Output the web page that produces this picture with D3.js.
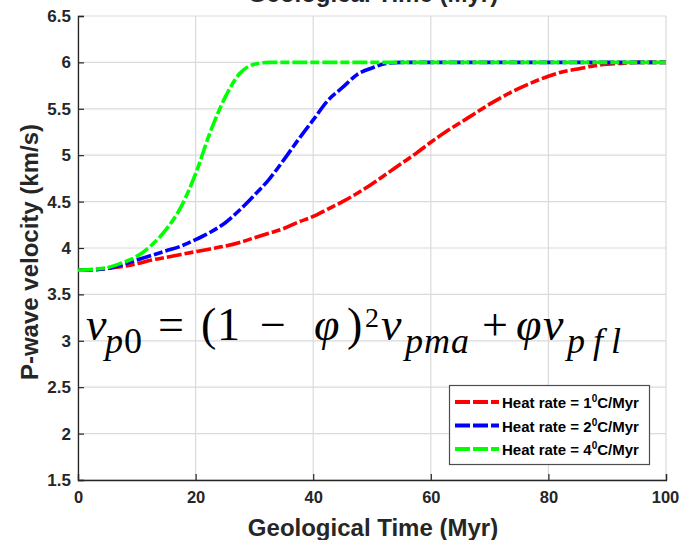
<!DOCTYPE html>
<html>
<head>
<meta charset="utf-8">
<script src="https://cdn.jsdelivr.net/npm/d3@7"></script>
<style>
  html, body { margin: 0; padding: 0; background: #fff; }
  svg { display: block; }
</style>
</head>
<body>
<svg id="chart" width="679" height="540"></svg>
<script>
// Geological time samples (Myr)
const timeMyr = [0, 2.5, 5, 7.5, 10, 12.5, 15, 17.5, 20, 22.5, 25, 27.5, 30, 32.5, 35, 37.5, 40,
  42.5, 45, 47.5, 50, 52.5, 55, 57.5, 60, 62.5, 65, 67.5, 70, 72.5, 75, 77.5, 80, 82.5, 85,
  87.5, 90, 92.5, 95, 97.5, 100];

// P-wave velocity (km/s) for each heating rate
const vpRate1 = [3.76, 3.765, 3.78, 3.80, 3.83, 3.87, 3.90, 3.93, 3.96, 3.99, 4.02, 4.06, 4.11,
  4.16, 4.21, 4.28, 4.34, 4.42, 4.50, 4.59, 4.69, 4.80, 4.91, 5.02, 5.14, 5.25, 5.35, 5.45,
  5.55, 5.64, 5.72, 5.79, 5.85, 5.90, 5.93, 5.96, 5.98, 5.99, 6.0, 6.0, 6.0];
const vpRate2 = [3.76, 3.765, 3.78, 3.82, 3.87, 3.92, 3.97, 4.02, 4.09, 4.17, 4.27, 4.41, 4.57,
  4.74, 4.95, 5.17, 5.38, 5.59, 5.73, 5.87, 5.94, 5.99, 6.0, 6.0, 6.0, 6.0, 6.0, 6.0, 6.0, 6.0,
  6.0, 6.0, 6.0, 6.0, 6.0, 6.0, 6.0, 6.0, 6.0, 6.0, 6.0];
const vpRate4 = [3.76, 3.77, 3.79, 3.84, 3.91, 4.03, 4.20, 4.44, 4.80, 5.25, 5.62, 5.88, 5.98,
  6.0, 6.0, 6.0, 6.0, 6.0, 6.0, 6.0, 6.0, 6.0, 6.0, 6.0, 6.0, 6.0, 6.0, 6.0, 6.0, 6.0, 6.0,
  6.0, 6.0, 6.0, 6.0, 6.0, 6.0, 6.0, 6.0, 6.0, 6.0];

const seriesLabels = ["1", "2", "4"];
const seriesColors = ["#ff0000", "#0000ff", "#00ff00"];

const xTicks = [0, 20, 40, 60, 80, 100];
const yTicks = [1.5, 2, 2.5, 3, 3.5, 4, 4.5, 5, 5.5, 6, 6.5];

const axisTitleX = "Geological Time (Myr)";
const axisTitleY = "P-wave velocity (km/s)";

const series = [vpRate1, vpRate2, vpRate4].map((vals, i) => ({
  label: seriesLabels[i],
  color: seriesColors[i],
  points: timeMyr.map((t, j) => [t, vals[j]])
}));

const svg = d3.select("#chart");
const margin = { left: 78, right: 13, top: 16, bottom: 60 };
const W = 679, H = 540;
const plotW = W - margin.left - margin.right;
const plotH = H - margin.top - margin.bottom;

const x = d3.scaleLinear().domain([0, 100]).range([margin.left, margin.left + plotW]);
const y = d3.scaleLinear().domain([1.5, 6.5]).range([margin.top + plotH, margin.top]);

const fontSans = "Arial, 'Liberation Sans', Helvetica, sans-serif";
const axisColor = "#262626";

// Grid
const grid = svg.append("g");
grid.selectAll("line.gx").data(xTicks).join("line")
  .attr("x1", d => x(d)).attr("x2", d => x(d))
  .attr("y1", y(1.5)).attr("y2", y(6.5))
  .attr("stroke", "#dadada").attr("stroke-width", 1.2);
grid.selectAll("line.gy").data(yTicks).join("line")
  .attr("x1", x(0)).attr("x2", x(100))
  .attr("y1", d => y(d)).attr("y2", d => y(d))
  .attr("stroke", "#dadada").attr("stroke-width", 1.2);

// Axes (ticks point inward)
const xAxis = d3.axisBottom(x).tickValues(xTicks).tickSize(-6).tickPadding(11).tickFormat(d3.format("d"));
const yAxis = d3.axisLeft(y).tickValues(yTicks).tickSize(-6).tickPadding(7).tickFormat(d => String(d));

const gx = svg.append("g").attr("transform", `translate(0,${y(1.5)})`).call(xAxis);
const gy = svg.append("g").attr("transform", `translate(${x(0)},0)`).call(yAxis);
[gx, gy].forEach(g => {
  g.select(".domain").attr("stroke", axisColor).attr("stroke-width", 1.3);
  g.selectAll(".tick line").attr("stroke", axisColor).attr("stroke-width", 1.2);
  g.selectAll(".tick text").attr("fill", axisColor)
    .style("font-family", fontSans).style("font-weight", "bold").style("font-size", "17px");
});
gx.selectAll(".tick text").attr("dy", "0.71em").style("font-size", "16.5px");
gx.selectAll(".tick text").filter(d => d === 100).attr("dx", -1);

// Curves
const line = d3.line().x(d => x(d[0])).y(d => y(d[1])).curve(d3.curveMonotoneX);
svg.append("g").selectAll("path").data(series).join("path")
  .attr("d", d => line(d.points))
  .attr("fill", "none")
  .attr("stroke", d => d.color)
  .attr("stroke-width", 3.6)
  .attr("stroke-dasharray", "15,3,9,3");

// Axis titles
svg.append("text")
  .attr("x", 373).attr("y", 536)
  .attr("text-anchor", "middle")
  .attr("fill", axisColor)
  .style("font-family", fontSans).style("font-weight", "bold").style("font-size", "24px")
  .text(axisTitleX);

svg.append("text")
  .attr("transform", "translate(38,252) rotate(-90)")
  .attr("text-anchor", "middle")
  .attr("fill", axisColor)
  .style("font-family", fontSans).style("font-weight", "bold").style("font-size", "24px")
  .text(axisTitleY);

// Title line running off the top edge
svg.append("text")
  .attr("x", 373).attr("y", 2)
  .attr("text-anchor", "middle")
  .attr("fill", axisColor)
  .style("font-family", fontSans).style("font-weight", "bold").style("font-size", "24px")
  .text(axisTitleX);

// Velocity relation: v_p0 = (1 − φ)² v_pma + φ v_pfl
// Each piece: glyphs, left offset from the formula origin, baseline shift, size, italic, run length
const eqX = 84, eqBase = 340;
const eqParts = [
  { t: "v",   at: 2,   shift: 0,   size: 46, it: true },
  { t: "p",   at: 21,  shift: 13,  size: 36, it: true },
  { t: "0",   at: 40,  shift: 13,  size: 36 },
  { t: "=",   at: 74,  shift: 0,   size: 46 },
  { t: "(",   at: 117, shift: 0,   size: 46 },
  { t: "1",   at: 133, shift: 0,   size: 46 },
  { t: "−",   at: 176, shift: 0,   size: 46 },
  { t: "φ",   at: 230, shift: 0,   size: 46, it: true },
  { t: ")",   at: 263, shift: 0,   size: 46 },
  { t: "2",   at: 281, shift: -13, size: 28 },
  { t: "v",   at: 297, shift: 0,   size: 46, it: true },
  { t: "pma", at: 321, shift: 13,  size: 36, it: true, len: 64 },
  { t: "+",   at: 398, shift: 0,   size: 46 },
  { t: "φ",   at: 432, shift: 0,   size: 46, it: true },
  { t: "v",   at: 459, shift: 0,   size: 46, it: true },
  { t: "pfl", at: 483, shift: 13,  size: 36, it: true, len: 54 }
];
const eq = svg.append("text")
  .attr("fill", "#000")
  .style("font-family", "'Liberation Serif', 'DejaVu Serif', serif");
eqParts.forEach(p => {
  const ts = eq.append("tspan")
    .attr("x", eqX + p.at)
    .attr("y", eqBase + p.shift)
    .style("font-size", p.size + "px")
    .text(p.t);
  if (p.it) ts.style("font-style", "italic");
  if (p.len) ts.attr("textLength", p.len).attr("lengthAdjust", "spacing");
});

// Legend
const legend = svg.append("g");
legend.append("rect")
  .attr("x", 449.5).attr("y", 385.5).attr("width", 200).attr("height", 79)
  .attr("fill", "#fff").attr("stroke", "#4d4d4d").attr("stroke-width", 1.2);
const rows = legend.selectAll("g.row").data(series).join("g")
  .attr("transform", (d, i) => `translate(0,${402 + i * 23.5})`);
rows.append("line")
  .attr("x1", 455).attr("x2", 499).attr("y1", 0).attr("y2", 0)
  .attr("stroke", d => d.color).attr("stroke-width", 3.8)
  .attr("stroke-dasharray", "15,3,15,3,8");
const lt = rows.append("text")
  .attr("x", 502).attr("y", 6)
  .attr("fill", "#000")
  .style("font-family", fontSans).style("font-weight", "bold").style("font-size", "15px");
lt.append("tspan").text(d => `Heat rate = ${d.label}`);
lt.append("tspan").attr("dy", -6).style("font-size", "10px").text("0");
lt.append("tspan").attr("dy", 6).text("C/Myr");
</script>
</body>
</html>
